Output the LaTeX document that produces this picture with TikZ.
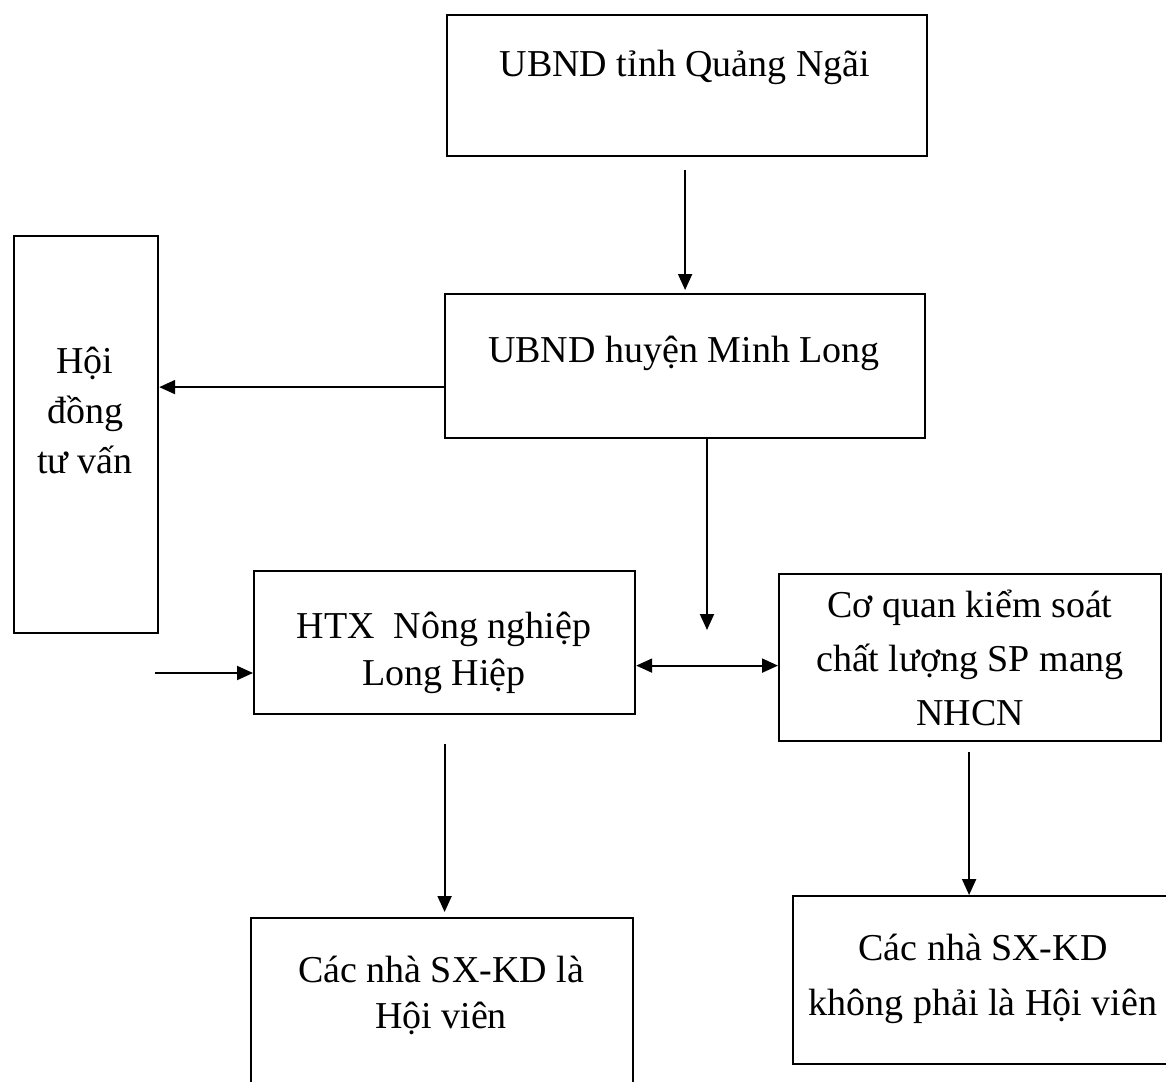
\documentclass[tikz,border=0pt]{standalone}
\usepackage{fontspec}
\setmainfont{Liberation Serif}
\usetikzlibrary{arrows.meta}
\begin{document}
\begin{tikzpicture}[x=1pt,y=-1pt,
  box/.style={draw, line width=2.2pt, inner sep=0pt, anchor=north west},
  txt/.style={align=center, anchor=base, inner sep=0pt, font=\fontsize{38}{50}\selectfont},
  arr/.style={line width=2pt, -{Triangle[length=16pt,width=14pt]}},
  darr/.style={line width=2pt, {Triangle[length=16pt,width=14pt]}-{Triangle[length=16pt,width=14pt]}}]
\useasboundingbox (0,0) rectangle (1166,1081);
\clip (0,0) rectangle (1166,1081);
\fill[white] (0,0) rectangle (1166,1081);
% boxes
\node[box, minimum width=480pt, minimum height=141pt] (A) at (446,14) {};
\node[box, minimum width=480pt, minimum height=144pt] (B) at (444,293) {};
\node[box, minimum width=144pt, minimum height=397pt] (H) at (13,235) {};
\node[box, minimum width=381pt, minimum height=143pt] (T) at (253,570) {};
\node[box, minimum width=382pt, minimum height=167pt] (C) at (778,573) {};
\node[box, minimum width=382pt, minimum height=200pt] (M) at (250,917) {};
\node[box, minimum width=380pt, minimum height=168pt] (N) at (792,895) {};
% texts (anchor = baseline of the last line)
\node[txt] (tA) at (685,77) {UBND tỉnh Quảng Ngãi};
\node[txt] (tB) at (684,362) {UBND huyện Minh Long};
\node[txt] (tH) at (85,473) {Hội\\đồng\\tư vấn};
\node[txt, font=\fontsize{38}{47}\selectfont] (tT) at (444,685) {HTX\ \ Nông nghiệp\\Long Hiệp};
\node[txt, font=\fontsize{38}{54}\selectfont] (tC) at (970,725) {Cơ quan kiểm soát\\chất lượng SP mang\\NHCN};
\node[txt, font=\fontsize{38}{46}\selectfont] (tM) at (441,1028) {Các nhà SX-KD là\\Hội viên};
\node[txt, font=\fontsize{38}{55}\selectfont] (tN) at (983,1015) {Các nhà SX-KD\\không phải là Hội viên};
% connectors
\draw[arr, shorten <=13pt, shorten >=3pt] (A.south -| B.south) -- (B.north);
\draw[arr] ([yshift=-21pt]B.west) coordinate (b1) -- (b1 -| H.east);
\coordinate (bend) at (707,630);
\draw[arr] (bend |- B.south) -- (bend);
\draw[darr] ([yshift=-23pt]T.east) coordinate (t1) -- (t1 -| C.west);
\coordinate (in) at (155,673);
\draw[arr] (in) -- (in -| T.west);
\draw[arr, shorten <=29pt, shorten >=5pt] (T.south) -- (T.south |- M.north);
\draw[arr, shorten <=10pt] ([xshift=-1pt]C.south) -- ([xshift=-1pt]C.south |- N.north);
\end{tikzpicture}
\end{document}
